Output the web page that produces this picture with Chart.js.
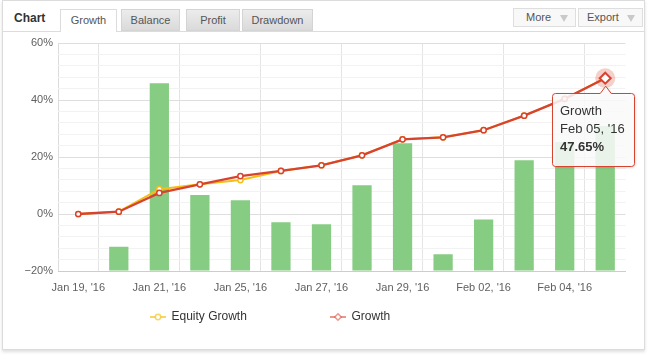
<!DOCTYPE html>
<html>
<head>
<meta charset="utf-8">
<script src="https://cdn.jsdelivr.net/npm/chart.js@4/dist/chart.umd.min.js"></script>
<style>
  html, body { margin:0; padding:0; background:#fff; width:648px; height:356px; overflow:hidden; }
  body { position:relative; font-family:"Liberation Sans", Arial, sans-serif; }
  #widget { position:absolute; left:2px; top:0px; width:643px; height:350px; box-sizing:border-box;
            border:1px solid #dcdcdc; background:#fff; box-shadow:0 2px 3px rgba(0,0,0,0.13); }
  #hline { position:absolute; left:2px; top:31px; width:643px; height:1px; background:#dcdcdc; }
  .title { position:absolute; left:14px; top:11px; font-size:12px; font-weight:bold; color:#333; }
  .tab { position:absolute; top:9px; height:22px; box-sizing:border-box; border:1px solid #d4d4d4;
         background:linear-gradient(#ececec,#dadada); color:#555; font-size:11px; line-height:21px; text-align:center; }
  .tab.active { background:#fff; height:23px; border-bottom:none; border-color:#dcdcdc; }
  .btn { position:absolute; top:8px; height:19px; box-sizing:border-box; border:1px solid #dedede;
         background:#f8f8f8; color:#555; font-size:11px; line-height:17px; }
  .btn span { position:absolute; top:0; }
  .tri { position:absolute; top:6px; width:0; height:0; border-left:4px solid transparent;
         border-right:4px solid transparent; border-top:7px solid #c9c9c9; }
  #c { position:absolute; left:0; top:0; z-index:2; pointer-events:none; }
</style>
</head>
<body>
<div id="widget"></div>
<div id="hline"></div>
<div class="title">Chart</div>
<div class="tab active" style="left:60px;width:57px;">Growth</div>
<div class="tab" style="left:121px;width:59px;">Balance</div>
<div class="tab" style="left:186px;width:54px;">Profit</div>
<div class="tab" style="left:242px;width:71px;">Drawdown</div>
<div class="btn" style="left:513px;width:63px;"><span style="left:12px;">More</span><div class="tri" style="left:46px;"></div></div>
<div class="btn" style="left:578px;width:65px;"><span style="left:8px;">Export</span><div class="tri" style="left:48px;"></div></div>
<canvas id="c" width="648" height="356"></canvas>
<script>
// ---- data ----
const categories = ["Jan 19, '16","Jan 20, '16","Jan 21, '16","Jan 22, '16","Jan 25, '16","Jan 26, '16","Jan 27, '16",
                    "Jan 28, '16","Jan 29, '16","Feb 01, '16","Feb 02, '16","Feb 03, '16","Feb 04, '16","Feb 05, '16"];
const growth       = [0, 0.8, 7.4, 10.4, 13.3, 15.1, 17.1, 20.6, 26.2, 26.9, 29.4, 34.5, 40.4, 47.65];
const equityGrowth = [0, 0.8, 8.7, 10.4, 11.9, 15.1, 17.1, 20.6, 26.2, 26.9, 29.4, 34.5, 40.4, 47.65];
const dailyBars    = [null, -11.5, 45.9, 6.7, 4.8, -2.9, -3.6, 10.1, 24.8, -14.1, -1.9, 18.9, 25.3, 30.9];
const yTicks       = [-20, 0, 20, 40, 60];
const hoverIndex   = 13;

const RED = '#d8432f', YEL = '#f2c014', GREEN = '#86cc82';
Chart.defaults.font.family = '"Liberation Sans", Arial, sans-serif';
Chart.defaults.animation = false;

const extras = {
  id: 'extras',
  beforeDatasetDraw(chart, args) {
    if (args.index !== 2) return;
    const el = chart.getDatasetMeta(2).data[hoverIndex];
    const ctx = chart.ctx;
    ctx.save();
    ctx.beginPath();
    ctx.arc(el.x, el.y, 10, 0, Math.PI * 2);
    ctx.fillStyle = 'rgba(216,67,47,0.25)';
    ctx.fill();
    ctx.restore();
  },
  afterDraw(chart) {
    const ctx = chart.ctx;
    // legend
    ctx.save();
    const ly = 317;
    const items = [
      { x: 150, color: 'rgba(242,192,20,0.65)', style: 'circle', text: chart.data.datasets[1].label },
      { x: 330, color: 'rgba(216,67,47,0.55)', style: 'diamond', text: chart.data.datasets[2].label }
    ];
    items.forEach(it => {
      ctx.strokeStyle = it.color; ctx.lineWidth = 2;
      ctx.beginPath(); ctx.moveTo(it.x, ly); ctx.lineTo(it.x + 16, ly); ctx.stroke();
      ctx.fillStyle = '#fff'; ctx.lineWidth = 1.5;
      ctx.beginPath();
      if (it.style === 'circle') ctx.arc(it.x + 8, ly, 2.7, 0, Math.PI * 2);
      else { ctx.moveTo(it.x + 8, ly - 3.2); ctx.lineTo(it.x + 11.2, ly); ctx.lineTo(it.x + 8, ly + 3.2); ctx.lineTo(it.x + 4.8, ly); ctx.closePath(); }
      ctx.fill(); ctx.stroke();
      ctx.fillStyle = '#333'; ctx.font = '12px "Liberation Sans", Arial, sans-serif';
      ctx.textBaseline = 'middle'; ctx.textAlign = 'left';
      ctx.fillText(it.text, it.x + 21.5, ly);
    });
    ctx.restore();

    // tooltip
    const el = chart.getDatasetMeta(2).data[hoverIndex];
    const px = el.x, py = el.y;
    const L = Math.round(px - 53) + 0.5, T = Math.round(py + 15) + 0.5, W = 82, H = 73, r = 3;
    ctx.save();
    ctx.beginPath();
    ctx.moveTo(L + r, T);
    ctx.lineTo(px - 5, T); ctx.lineTo(px + 0.5, py + 8); ctx.lineTo(px + 6, T);
    ctx.lineTo(L + W - r, T); ctx.arcTo(L + W, T, L + W, T + r, r);
    ctx.lineTo(L + W, T + H - r); ctx.arcTo(L + W, T + H, L + W - r, T + H, r);
    ctx.lineTo(L + r, T + H); ctx.arcTo(L, T + H, L, T + H - r, r);
    ctx.lineTo(L, T + r); ctx.arcTo(L, T, L + r, T, r);
    ctx.closePath();
    ctx.shadowColor = 'rgba(0,0,0,0.18)'; ctx.shadowBlur = 3; ctx.shadowOffsetX = 1; ctx.shadowOffsetY = 1;
    ctx.fillStyle = 'rgba(255,255,255,0.85)';
    ctx.fill();
    ctx.shadowColor = 'transparent';
    ctx.strokeStyle = RED; ctx.lineWidth = 1;
    ctx.stroke();
    ctx.fillStyle = '#333'; ctx.textBaseline = 'middle'; ctx.textAlign = 'left';
    ctx.font = '13px "Liberation Sans", Arial, sans-serif';
    ctx.fillText(chart.data.datasets[2].label, L + 7.5, T + 18);
    ctx.fillText(categories[hoverIndex], L + 7.5, T + 36);
    ctx.font = 'bold 13px "Liberation Sans", Arial, sans-serif';
    ctx.fillText(growth[hoverIndex].toFixed(2) + '%', L + 7.5, T + 53.5);
    ctx.restore();
  }
};

new Chart(document.getElementById('c'), {
  data: {
    labels: categories,
    datasets: [
      { type: 'bar', label: 'Daily', data: dailyBars, base: -20, backgroundColor: GREEN,
        categoryPercentage: 1, barPercentage: 0.475, order: 3 },
      { type: 'line', label: 'Equity Growth', data: equityGrowth, borderColor: YEL, borderWidth: 2,
        pointRadius: 2.6, pointBorderWidth: 1.5, pointBackgroundColor: '#fff', pointBorderColor: YEL,
        tension: 0, order: 2 },
      { type: 'line', label: 'Growth', data: growth, borderColor: RED, borderWidth: 2.3,
        pointStyle: c => c.dataIndex === hoverIndex ? 'rectRot' : 'circle',
        pointRadius: c => c.dataIndex === hoverIndex ? 5.5 : 2.6,
        pointBorderWidth: c => c.dataIndex === hoverIndex ? 2 : 1.5,
        pointBackgroundColor: '#fff', pointBorderColor: RED, tension: 0, order: 1 }
    ]
  },
  options: {
    responsive: false,
    layout: { padding: { left: 0, top: 43, right: 22.5, bottom: 0 } },
    plugins: { legend: { display: false }, tooltip: { enabled: false } },
    scales: {
      x: {
        type: 'category',
        offset: true,
        afterFit: s => { s.height = 85; },
        grid: {
          offset: true, drawTicks: false, lineWidth: 1,
          color: c => (c.index === 0 || c.index === categories.length) ? '#dcdcdc' : (c.index % 2 === 1 ? '#e4e4e4' : 'rgba(0,0,0,0)')
        },
        border: { display: true, color: '#c0d0e0', width: 1 },
        ticks: {
          autoSkip: false, maxRotation: 0, minRotation: 0, padding: 10,
          color: '#606060', font: { size: 11 },
          callback: (v, i) => i % 2 === 0 ? categories[i] : ''
        }
      },
      y: {
        min: yTicks[0], max: yTicks[yTicks.length - 1],
        afterFit: s => { s.width = 58; },
        border: { display: false },
        grid: {
          drawTicks: false,
          color: c => yTicks.includes(c.tick.value) ? '#dedede' : '#f2f2f2'
        },
        ticks: {
          stepSize: 4, autoSkip: false, padding: 5, color: '#606060', font: { size: 11 },
          callback: v => yTicks.includes(v) ? (v < 0 ? '\u2212' + Math.abs(v) : v) + '%' : ''
        }
      }
    }
  },
  plugins: [extras]
});
</script>
</body>
</html>
